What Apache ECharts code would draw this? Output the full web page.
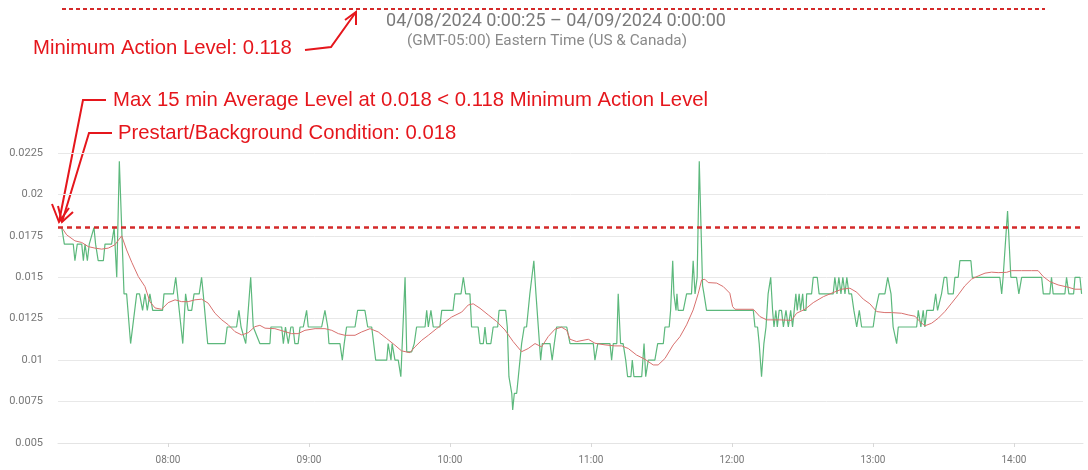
<!DOCTYPE html>
<html>
<head>
<meta charset="utf-8">
<script src="https://cdn.jsdelivr.net/npm/echarts@6/dist/echarts.min.js"></script>
<style>
  html, body { margin: 0; padding: 0; background: #fff; }
  #chart { width: 1088px; height: 470px; }
</style>
</head>
<body>
<div id="chart"></div>
<script>
// minutes after 07:00 on 04/08/2024
const greenMin = [14.8, 15.9, 19.7, 20.4, 21.4, 23.3, 24.0, 24.7, 25.7, 26.5, 27.2, 28.5, 29.2, 30.3, 32.5, 33.2, 36.0, 37.1, 38.2, 39.3,
  41.3, 42.4, 44.1, 46.7, 47.9, 49.2, 50.2, 51.2, 52.3, 53.5, 57.7, 58.3, 62.3, 63.3, 66.3, 67.5, 68.6, 70.1, 71.1, 73.3,
  74.3, 75.0, 76.9, 84.3, 85.2, 89.2, 90.2, 91.1, 93.1, 95.2, 96.3, 99.1, 103.4, 103.8, 108.4, 109.1, 110.0, 111.2, 112.3, 113.2,
  114.0, 115.4, 116.2, 117.6, 119.0, 119.7, 125.4, 126.8, 128.0, 128.5, 133.2, 134.2, 135.0, 136.0, 139.6, 140.7, 143.8, 145.0, 146.7, 148.4,
  153.1, 153.7, 154.9, 155.4, 156.6, 158.0, 159.1, 160.9, 161.6, 163.7, 164.8, 165.8, 169.4, 170.1, 170.8, 171.9, 172.9, 175.7, 176.5, 181.3,
  182.1, 184.7, 185.7, 186.7, 188.5, 189.2, 192.0, 192.8, 194.2, 194.9, 195.6, 197.4, 198.4, 200.3, 200.9, 203.7, 204.4, 205.1, 206.3, 206.7,
  207.4, 208.4, 209.1, 210.5, 211.6, 212.6, 214.0, 215.7, 216.6, 217.6, 218.6, 219.3, 222.6, 223.5, 224.4, 225.4, 229.7, 231.1, 241.0, 241.7,
  242.9, 248.1, 248.8, 249.5, 251.0, 251.6, 252.6, 253.7, 254.8, 255.6, 257.0, 257.6, 258.3, 261.6, 262.6, 263.3, 264.4, 267.2, 268.4, 270.8,
  271.5, 273.3, 273.9, 274.8, 275.3, 276.2, 276.6, 277.1, 279.3, 280.7, 282.8, 283.5, 284.3, 285.2, 286.1, 287.5, 288.1, 289.2, 309.1, 309.8,
  310.9, 311.6, 312.6, 313.6, 314.5, 315.4, 316.5, 317.3, 317.9, 318.7, 319.3, 320.1, 321.1, 321.9, 323.0, 324.0, 325.0, 325.8, 326.5, 327.2,
  327.8, 328.6, 329.2, 330.1, 330.6, 331.5, 331.8, 333.9, 334.6, 336.3, 337.1, 343.1, 343.8, 344.7, 345.5, 346.4, 347.2, 348.1, 348.9, 349.8,
  350.9, 351.9, 353.1, 354.2, 355.2, 360.1, 361.1, 362.6, 365.1, 366.3, 367.0, 367.7, 368.6, 369.4, 370.1, 370.8, 378.6, 379.3, 380.4, 381.4,
  382.1, 382.9, 385.7, 386.7, 387.5, 388.1, 389.2, 390.3, 391.4, 392.0, 394.2, 394.9, 396.3, 397.0, 401.7, 402.3, 414.0, 414.8, 415.4, 416.2,
  417.3, 418.7, 421.1, 422.1, 423.3, 431.8, 432.5, 435.3, 436.0, 436.7, 441.7, 442.4, 443.4, 445.4, 446.0, 448.1, 448.8];
const greenVal = [0.018, 0.017, 0.017, 0.016, 0.017, 0.017, 0.016, 0.017, 0.016, 0.017, 0.017, 0.018, 0.017, 0.016, 0.016, 0.017, 0.017, 0.018, 0.015, 0.022,
  0.014, 0.014, 0.011, 0.014, 0.014, 0.013, 0.014, 0.013, 0.014, 0.013, 0.013, 0.014, 0.014, 0.015, 0.011, 0.014, 0.013, 0.013, 0.014, 0.014,
  0.015, 0.014, 0.011, 0.011, 0.012, 0.012, 0.013, 0.012, 0.011, 0.015, 0.012, 0.011, 0.011, 0.012, 0.012, 0.011, 0.012, 0.011, 0.012, 0.012,
  0.011, 0.011, 0.012, 0.012, 0.013, 0.012, 0.012, 0.013, 0.012, 0.011, 0.011, 0.010, 0.011, 0.012, 0.012, 0.013, 0.013, 0.012, 0.012, 0.010,
  0.010, 0.011, 0.010, 0.011, 0.010, 0.010, 0.009, 0.015, 0.0105, 0.0105, 0.011, 0.012, 0.012, 0.013, 0.012, 0.013, 0.012, 0.012, 0.013, 0.013,
  0.014, 0.014, 0.015, 0.014, 0.014, 0.012, 0.012, 0.011, 0.011, 0.012, 0.011, 0.011, 0.012, 0.012, 0.013, 0.013, 0.012, 0.009, 0.008, 0.007,
  0.008, 0.008, 0.009, 0.011, 0.012, 0.012, 0.014, 0.016, 0.014, 0.012, 0.010, 0.011, 0.011, 0.010, 0.011, 0.012, 0.012, 0.011, 0.011, 0.010,
  0.011, 0.011, 0.010, 0.011, 0.011, 0.014, 0.011, 0.011, 0.010, 0.009, 0.009, 0.010, 0.009, 0.009, 0.011, 0.009, 0.010, 0.010, 0.011, 0.011,
  0.012, 0.012, 0.013, 0.016, 0.014, 0.013, 0.014, 0.013, 0.013, 0.014, 0.014, 0.016, 0.014, 0.015, 0.022, 0.0145, 0.014, 0.013, 0.013, 0.012,
  0.012, 0.011, 0.009, 0.011, 0.012, 0.014, 0.015, 0.013, 0.012, 0.013, 0.012, 0.013, 0.013, 0.012, 0.013, 0.012, 0.013, 0.012, 0.013, 0.014,
  0.013, 0.014, 0.013, 0.014, 0.013, 0.013, 0.014, 0.014, 0.015, 0.015, 0.014, 0.014, 0.015, 0.014, 0.015, 0.014, 0.015, 0.014, 0.015, 0.014,
  0.014, 0.013, 0.012, 0.013, 0.012, 0.012, 0.013, 0.014, 0.014, 0.015, 0.015, 0.014, 0.012, 0.012, 0.011, 0.012, 0.012, 0.013, 0.012, 0.013,
  0.012, 0.013, 0.013, 0.014, 0.013, 0.013, 0.014, 0.015, 0.015, 0.014, 0.014, 0.015, 0.015, 0.016, 0.016, 0.015, 0.015, 0.014, 0.015, 0.015,
  0.019, 0.015, 0.015, 0.014, 0.015, 0.015, 0.014, 0.014, 0.015, 0.014, 0.014, 0.015, 0.014, 0.014, 0.015, 0.015, 0.014];

const avgMin = [14.8, 16.9, 20.4, 23.3, 26.1, 28.9, 31.8, 34.6, 37.4, 40.3, 42.4, 44.6, 47.4, 50.2, 52.3, 54.5, 57.3, 60.1, 63.0, 65.8,
  68.6, 71.5, 74.3, 77.1, 80.0, 82.9, 85.7, 88.5, 91.4, 94.2, 97.0, 99.1, 101.3, 105.5, 109.8, 112.6, 115.4, 118.3, 122.6, 126.8,
  129.7, 132.5, 135.3, 139.6, 142.4, 146.0, 149.5, 153.1, 156.6, 159.4, 163.0, 165.1, 168.0, 170.8, 174.3, 177.9, 180.7, 185.0, 187.8, 189.9,
  192.8, 196.3, 199.9, 203.4, 206.9, 210.5, 213.3, 216.2, 219.0, 221.8, 224.7, 227.5, 229.7, 231.1, 233.9, 238.9, 241.7, 246.0, 250.2, 253.1,
  255.9, 259.4, 263.0, 266.5, 268.6, 271.5, 275.0, 277.9, 280.7, 283.5, 285.7, 287.1, 288.5, 289.9, 293.5, 296.3, 299.1, 300.3, 301.3, 309.1,
  311.9, 314.8, 320.4, 325.4, 327.5, 331.1, 334.6, 338.9, 343.1, 346.7, 350.2, 353.1, 355.9, 358.7, 361.6, 365.1, 367.9, 372.2, 375.0, 377.9,
  380.0, 382.1, 385.0, 387.8, 390.6, 393.5, 396.3, 399.1, 402.0, 404.8, 407.7, 410.5, 413.3, 416.9, 419.0, 423.3, 427.5, 430.3, 432.5, 435.3,
  438.8, 443.1, 445.9, 448.8];
const avgVal = [0.018, 0.01756, 0.0172, 0.0171, 0.01685, 0.01676, 0.0167, 0.01676, 0.01696, 0.0175, 0.01665, 0.0159, 0.01504, 0.01444, 0.01353, 0.01315, 0.01307, 0.01347, 0.01364, 0.01353,
  0.01353, 0.01364, 0.01368, 0.01344, 0.01283, 0.01243, 0.01213, 0.01172, 0.01152, 0.01166, 0.01202, 0.0121, 0.01193, 0.0119, 0.01172, 0.0116, 0.0116, 0.0118, 0.0119, 0.0119,
  0.0118, 0.0116, 0.0115, 0.0115, 0.0117, 0.0119, 0.0117, 0.0113, 0.0109, 0.01056, 0.01045, 0.0108, 0.0112, 0.0115, 0.0119, 0.0123, 0.0126, 0.0129, 0.01333, 0.0134,
  0.01313, 0.01273, 0.01233, 0.01182, 0.01112, 0.01051, 0.0107, 0.011, 0.0108, 0.01142, 0.01187, 0.01199, 0.0118, 0.01126, 0.01112, 0.01126, 0.01102, 0.01092, 0.01086, 0.01086,
  0.0107, 0.01031, 0.01005, 0.00971, 0.00971, 0.0101, 0.01092, 0.01142, 0.01213, 0.01303, 0.01404, 0.01484, 0.01488, 0.01468, 0.01465, 0.01444, 0.01404, 0.01323, 0.01307, 0.01307,
  0.01263, 0.01243, 0.01243, 0.0124, 0.01283, 0.01307, 0.01347, 0.01383, 0.01408, 0.01428, 0.01434, 0.0141, 0.01368, 0.0134, 0.01293, 0.01287, 0.01287, 0.01283, 0.01273, 0.01265,
  0.01233, 0.01207, 0.01223, 0.01253, 0.01293, 0.01344, 0.01394, 0.01448, 0.01489, 0.01508, 0.01525, 0.01531, 0.01528, 0.0153, 0.0154, 0.0154, 0.0154, 0.0154, 0.01504, 0.01474,
  0.01454, 0.0144, 0.01428, 0.01428];

const backgroundLevel = 0.018;
const yTicks = { min: 0.005, max: 0.0225, step: 0.0025 };
const titleText = '04/08/2024 0:00:25 – 04/09/2024 0:00:00';
const subText = '(GMT-05:00) Eastern Time (US & Canada)';
const noteAction = 'Minimum Action Level: 0.118';
const noteMax = 'Max 15 min Average Level at 0.018 < 0.118 Minimum Action Level';
const notePrestart = 'Prestart/Background Condition: 0.018';

const base = new Date(2024, 3, 8, 7, 0, 0).getTime();
const toTime = m => base + Math.round(m * 60000);
const pad = n => (n < 10 ? '0' : '') + n;

const greenData = greenMin.map((m, i) => [toTime(m), greenVal[i]]);
const avgData = avgMin.map((m, i) => [toTime(m), avgVal[i]]);

const RED = '#e5161c';
const noteFont = '20.3px "Liberation Sans", Arial, sans-serif';

let chart = echarts.init(document.getElementById('chart'));
chart.setOption({
  animation: false,
  title: [
    {
      text: titleText,
      left: 551,
      top: 7,
      textAlign: 'center',
      textStyle: { fontFamily: 'Roboto', fontSize: 18, fontWeight: 'normal', color: '#7a7a7a' }
    },
    {
      text: subText,
      left: 542,
      top: 29,
      textAlign: 'center',
      textStyle: { fontFamily: 'Roboto', fontSize: 15.3, fontWeight: 'normal', color: '#8a8a8a' }
    }
  ],
  grid: { left: 58, right: 5, top: 153, bottom: 27 },
  xAxis: {
    type: 'time',
    min: toTime(13.2),
    max: toTime(449.4),
    minInterval: 3600000,
    maxInterval: 3600000,
    splitLine: { show: false },
    axisLine: { lineStyle: { color: '#e4e4e4' } },
    axisTick: { show: true, length: 4, lineStyle: { color: '#d8d8d8' } },
    axisLabel: {
      showMinLabel: false,
      showMaxLabel: false,
      fontFamily: 'Roboto',
      fontSize: 10,
      color: '#777',
      margin: 12,
      formatter: v => { const d = new Date(v); return pad(d.getHours()) + ':' + pad(d.getMinutes()); }
    }
  },
  yAxis: {
    type: 'value',
    min: yTicks.min,
    max: yTicks.max,
    interval: yTicks.step,
    axisLine: { show: false },
    axisTick: { show: false },
    splitLine: { lineStyle: { color: '#e8e8e8' } },
    axisLabel: { fontFamily: 'Roboto', fontSize: 11, color: '#777', margin: 15 }
  },
  series: [
    {
      name: 'Reading',
      type: 'line',
      showSymbol: false,
      data: greenData,
      lineStyle: { color: '#5cb87c', width: 1.2 },
      itemStyle: { color: '#5cb87c' }
    },
    {
      name: '15 min Average',
      type: 'line',
      showSymbol: false,
      data: avgData,
      lineStyle: { color: '#d8706e', width: 1 },
      itemStyle: { color: '#d8706e' },
      markLine: {
        silent: true,
        symbol: 'none',
        precision: 4,
        label: { show: false },
        lineStyle: { color: '#d42a2a', type: [5, 4], width: 2.5 },
        data: [{ yAxis: backgroundLevel }]
      }
    }
  ],
  graphic: [
    { type: 'line', shape: { x1: 62, y1: 9, x2: 1045, y2: 9 }, style: { stroke: '#d42a2a', lineWidth: 2, lineDash: [4, 3] } },
    { type: 'text', style: { text: noteAction, x: 33, y: 48, font: noteFont, fill: RED, verticalAlign: 'middle' } },
    { type: 'polyline', shape: { points: [[305, 50], [331, 47], [356, 12]] }, style: { stroke: RED, lineWidth: 2, fill: null } },
    { type: 'polyline', shape: { points: [[345, 20], [356, 12], [356, 25]] }, style: { stroke: RED, lineWidth: 2, fill: null } },
    { type: 'text', style: { text: noteMax, x: 113, y: 100, font: noteFont, fill: RED, verticalAlign: 'middle' } },
    { type: 'text', style: { text: notePrestart, x: 118, y: 133, font: noteFont, fill: RED, verticalAlign: 'middle' } },
    { type: 'polyline', shape: { points: [[106, 100], [83, 100], [59, 222]] }, style: { stroke: RED, lineWidth: 2, fill: null } },
    { type: 'polyline', shape: { points: [[112, 133], [89, 133], [62, 222]] }, style: { stroke: RED, lineWidth: 2, fill: null } },
    { type: 'polyline', shape: { points: [[52, 204], [59, 222], [69, 208]] }, style: { stroke: RED, lineWidth: 2, fill: null } },
    { type: 'polyline', shape: { points: [[58, 206], [62, 222], [73, 212]] }, style: { stroke: RED, lineWidth: 2, fill: null } }
  ]
});
</script>
</body>
</html>
